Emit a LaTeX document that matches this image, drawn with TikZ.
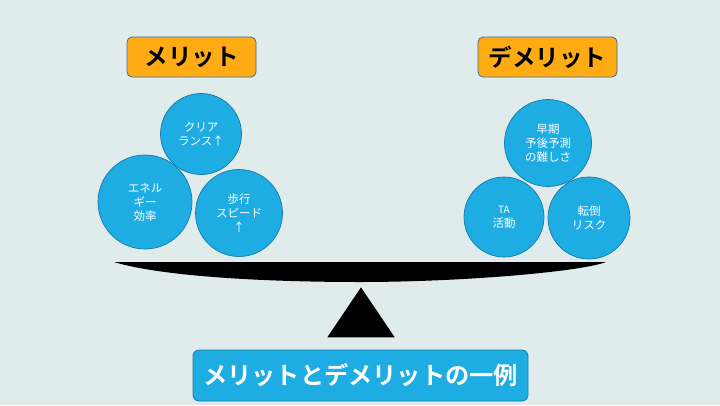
\documentclass[tikz,border=0pt]{standalone}
\usepackage{fontspec}
\setmainfont{Noto Sans CJK JP}
\newfontfamily\jpb{Noto Sans CJK JP Bold}
\usetikzlibrary{shapes.geometric}
\definecolor{bg}{RGB}{224,236,236}
\definecolor{orangebox}{RGB}{255,172,20}
\definecolor{boxedge}{RGB}{60,110,150}
\definecolor{ballfill}{RGB}{30,173,226}
\definecolor{balledge}{RGB}{24,120,170}
\tikzset{
  titlebox/.style={draw=boxedge, line width=0.8pt, fill=orangebox, rounded corners=5pt, inner sep=0pt, font=\jpb\fontsize{23.5}{28}\selectfont, text=black},
  ball/.style={circle, draw=balledge, line width=0.7pt, fill=ballfill, inner sep=0pt, text=white, align=center, font=\fontsize{11.5}{14}\selectfont},
  caption/.style={draw=balledge, line width=0.8pt, fill=ballfill, rounded corners=6pt, inner sep=0pt, text=white, font=\jpb\fontsize{24.2}{30}\selectfont}
}
\begin{document}
\begin{tikzpicture}[x=1pt,y=-1pt]
\fill[bg] (0,0) rectangle (720,405);
\useasboundingbox (0,0) rectangle (720,405);
% title boxes
\node[titlebox, minimum width=129pt, minimum height=40pt] (merit) at (191.5,57) {メリット};
\node[titlebox, minimum width=139pt, minimum height=40pt] (demerit) at (547.5,57) {デメリット};
% left balls
\node[ball, minimum size=81pt] (clear) at (201,134) {クリア\\ランス↑};
\node[ball, minimum size=94pt] (energy) at (145,202) {エネル\\ギー\\効率};
\node[ball, minimum size=87pt] (speed) at (239,213) {歩行\\スピード\\↑};
% right balls
\node[ball, minimum size=87pt] (prog) at (548,143) {早期\\予後予測\\の難しさ};
\node[ball, minimum size=80pt] (ta) at (504,217) {\fontsize{10}{12}\selectfont TA\\活動};
\node[ball, minimum size=82pt] (fall) at (589,218) {転倒\\リスク};
% beam
\fill[black] (114,262) -- (606,262) .. controls (580,272) and (460,282) .. (360,282)
  .. controls (260,282) and (160,276) .. (114,262) -- cycle;
% fulcrum
\node[isosceles triangle, isosceles triangle apex angle=68, shape border rotate=90, fill=black, inner sep=0pt, minimum height=50pt, anchor=apex] (fulcrum) at (361,287) {};
% caption
\node[caption, minimum width=335pt, minimum height=51pt] (cap) at (360.5,375.5) {メリットとデメリットの一例};
\end{tikzpicture}
\end{document}
